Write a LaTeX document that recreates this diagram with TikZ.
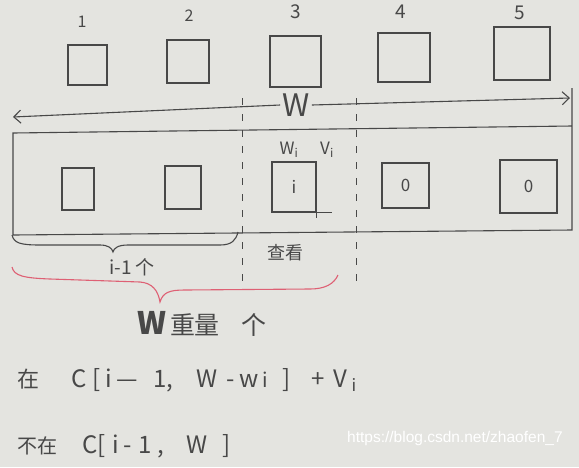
\documentclass[tikz,border=0pt]{standalone}
\usepackage{fontspec}
\setmainfont{Noto Sans CJK SC}
\newfontfamily\wmfont{Liberation Sans}
\usetikzlibrary{arrows.meta}
\definecolor{paper}{RGB}{228,228,224}
\definecolor{pen}{RGB}{72,72,72}
\definecolor{redpen}{RGB}{222,96,116}
\newcommand\putat[2]{\rlap{\hskip#1pt\relax #2}}
\begin{document}
\begin{tikzpicture}[x=1pt,y=-1pt,
  pencil/.style={draw=pen,line width=1.1pt},
  sq/.style={pencil,inner sep=0pt,text=pen,font=\fontsize{17}{17}\selectfont},
  lbl/.style={text=pen,inner sep=1pt},
  dashln/.style={draw=pen,line width=1pt,dash pattern=on 7pt off 9pt}]
\fill[paper] (0,0) rectangle (579,467);
\useasboundingbox (0,0) rectangle (579,467);

% top row
\node[sq,minimum width=39pt,minimum height=40pt] (t1) at (87.5,65) {};
\node[sq,minimum width=42pt,minimum height=43pt] (t2) at (188,61.5) {};
\node[sq,minimum width=51pt,minimum height=51pt] (t3) at (295.5,61.5) {};
\node[sq,minimum width=52pt,minimum height=49pt] (t4) at (404,57.5) {};
\node[sq,minimum width=56pt,minimum height=53pt] (t5) at (522,53.5) {};
\node[lbl,font=\fontsize{16}{16}\selectfont] (n1) at (82,22) {1};
\node[lbl,font=\fontsize{16}{16}\selectfont] (n2) at (189,16) {2};
\node[lbl,font=\fontsize{19}{19}\selectfont] (n3) at (296,12) {3};
\node[lbl,font=\fontsize{19}{19}\selectfont] (n4) at (401,12) {4};
\node[lbl,font=\fontsize{19}{19}\selectfont] (n5) at (520,13) {5};

% W arrow
\node[lbl,font=\fontsize{31}{31}\selectfont,inner sep=2pt] (W) at (296,105) {W};
\coordinate (wl) at (13,117);
\coordinate (wr) at (570,98);
\draw[pencil,-{Straight Barb[length=7pt,width=13pt]}] (W.west) -- (wl);
\draw[pencil,-{Straight Barb[length=7pt,width=13pt]}] (W.east) -- (wr);

% big rectangle
\draw[pencil] (572,88) -- (572,230) -- (13,235) -- (13,133) -- (572,126);

% dashed separators
\draw[dashln] (242,98) -- (242,284);
\draw[dashln] (356,98) -- (356,284);

% inner row
\node[sq,minimum width=32pt,minimum height=42pt] (b1) at (78,189) {};
\node[sq,minimum width=36pt,minimum height=43pt] (b2) at (183,187.5) {};
\node[sq,minimum width=44pt,minimum height=50pt] (b3) at (294,187) {i};
\node[sq,minimum width=47pt,minimum height=45pt] (b4) at (405.5,185.5) {0};
\node[sq,minimum width=57pt,minimum height=53pt] (b5) at (528.5,186.5) {0};
\draw[pencil] (b3.south east) -- ++(15,0);
\draw[pencil] (b3.south east) -- ++(0,5);
\node[lbl,font=\fontsize{17}{17}\selectfont] (wi) at (289,150) {W\textsubscript{i}};
\node[lbl,font=\fontsize{17}{17}\selectfont] (vi) at (327,150) {V\textsubscript{i}};

% black brace
\draw[pencil] (12,235) .. controls (14,243) and (20,245) .. (40,245) -- (100,245)
  .. controls (108,245) and (112,248) .. (113,252)
  .. controls (114,248) and (118,245) .. (128,245) -- (220,245)
  .. controls (232,245) and (236,240) .. (238,232);
\node[lbl,font=\fontsize{19}{19}\selectfont] (im1) at (132,267) {i-1\hspace{4pt}个};
\node[lbl,font=\fontsize{18}{18}\selectfont] (chk) at (285,253) {查看};

% red brace
\draw[draw=redpen,line width=1.1pt] (12,267) .. controls (14,276) and (24,278) .. (50,279) -- (140,282)
  .. controls (152,283) and (158,290) .. (160,302)
  .. controls (163,292) and (170,290) .. (185,290) -- (310,289)
  .. controls (325,289) and (334,284) .. (338,275);
\node[lbl,font=\fontsize{25}{25}\selectfont,anchor=base west,inner sep=0pt] (wz) at (137,334)
  {\putat{0}{\fontsize{31}{31}\selectfont\textbf{W}}\putat{33}{重}\putat{57}{量}\putat{104}{个}\hspace{130pt}};

% bottom formulas
\node[lbl,font=\fontsize{24}{24}\selectfont,anchor=base west,inner sep=0pt] (f1) at (17,387)
  {\putat{0}{\fontsize{22}{22}\selectfont 在}\putat{54}{C}\putat{75}{[}\putat{88}{i}\putat{99}{—}\putat{136}{1}\putat{149}{,}%
   \putat{179}{W}\putat{209}{-}\putat{222}{w}\putat{245}{\fontsize{20}{20}\selectfont i}\putat{265}{]}%
   \putat{294}{+}\putat{316}{V}\putat{334}{\textsubscript{i}}\hspace{350pt}};
\node[lbl,font=\fontsize{24}{24}\selectfont,anchor=base west,inner sep=0pt] (f2) at (17,453)
  {\putat{0}{\fontsize{20}{20}\selectfont 不在}\putat{65}{C}\putat{80}{[}\putat{95}{i}\putat{106}{-}\putat{121}{1}\putat{140}{,}%
   \putat{169}{W}\putat{205}{]}\hspace{220pt}};
\node[text=white,font=\wmfont\fontsize{15.5}{15.5}\selectfont,anchor=west,inner sep=0pt] (wm) at (347,438) {https://blog.csdn.net/zhaofen\_7};
\end{tikzpicture}
\end{document}
